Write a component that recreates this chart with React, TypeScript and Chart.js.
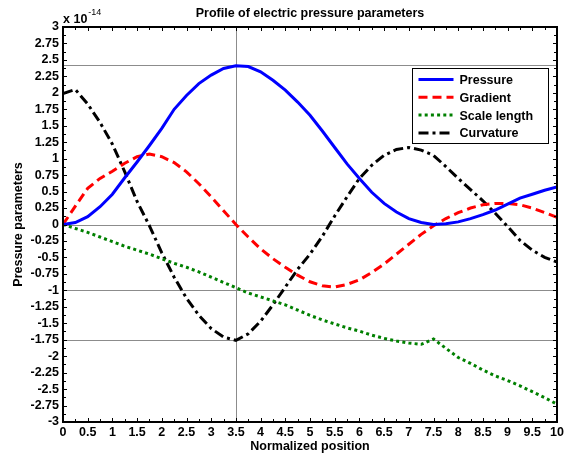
import React, { useEffect, useRef } from "react";
import { Chart, registerables } from "chart.js";

Chart.register(...registerables);

const FONT = '"Liberation Sans", Arial, Helvetica, sans-serif';

const chartTitle = "Profile of electric pressure parameters";
const xAxisTitle = "Normalized position";
const yAxisTitle = "Pressure parameters";
const exponentBase = "x 10";
const exponentPower = "-14";

const positions = [
  0, 0.25, 0.5, 0.75, 1, 1.25, 1.5, 1.75, 2, 2.25, 2.5, 2.75, 3, 3.25, 3.5, 3.75, 4, 4.25, 4.5, 4.75, 5,
  5.25, 5.5, 5.75, 6, 6.25, 6.5, 6.75, 7, 7.25, 7.5, 7.75, 8, 8.25, 8.5, 8.75, 9, 9.25, 9.5, 9.75, 10,
];

const pressure = [
  0, 0.03, 0.12, 0.27, 0.46, 0.71, 0.95, 1.2, 1.46, 1.75, 1.96, 2.14, 2.27, 2.37, 2.41, 2.4, 2.32, 2.19, 2.04, 1.86, 1.66,
  1.42, 1.17, 0.92, 0.7, 0.49, 0.32, 0.19, 0.09, 0.03, 0.0, 0.01, 0.04, 0.09, 0.15, 0.22, 0.31, 0.4, 0.46, 0.52, 0.57,
];

const gradient = [
  0, 0.28, 0.55, 0.7, 0.81, 0.93, 1.03, 1.07, 1.03, 0.94, 0.8, 0.62, 0.42, 0.21, 0.0, -0.19, -0.37, -0.52, -0.65, -0.77, -0.87,
  -0.93, -0.95, -0.91, -0.84, -0.73, -0.6, -0.45, -0.3, -0.15, -0.02, 0.09, 0.18, 0.25, 0.3, 0.32, 0.32, 0.3, 0.25, 0.18, 0.11,
];

const scaleLength = [
  0, -0.06, -0.12, -0.19, -0.26, -0.33, -0.39, -0.45, -0.52, -0.59, -0.65, -0.72, -0.8, -0.88, -0.96, -1.04, -1.1, -1.16, -1.22, -1.3, -1.38,
  -1.45, -1.51, -1.57, -1.62, -1.68, -1.73, -1.77, -1.8, -1.82, -1.74, -1.88, -2.02, -2.11, -2.21, -2.3, -2.37, -2.45, -2.54, -2.63, -2.73,
];

const curvature = [
  1.99, 2.05, 1.83, 1.55, 1.22, 0.8, 0.35, -0.02, -0.43, -0.8, -1.12, -1.38, -1.58, -1.71, -1.76, -1.66, -1.47, -1.22, -0.95, -0.68, -0.45,
  -0.18, 0.13, 0.42, 0.7, 0.9, 1.05, 1.14, 1.17, 1.13, 1.05, 0.88, 0.7, 0.53, 0.36, 0.17, -0.03, -0.24, -0.39, -0.5, -0.57,
];

const seriesLabels = ["Pressure", "Gradient", "Scale length", "Curvature"];

const refLinesY = [2.42, 0, -1, -1.76];
const refLinesX = [3.5];

const xMin = 0;
const xMax = 10;
const xLabelStep = 0.5;
const xTickStep = 0.25;
const yMin = -3;
const yMax = 3;
const yLabelStep = 0.25;
const yTickStep = 0.125;

const FS = 12.5;

function fmt(v: number): string {
  return String(Number(v.toFixed(3)));
}

const matlabPlugin = {
  id: "matlabLook",
  beforeDatasetsDraw(chart: any) {
    const { ctx, chartArea: a, scales } = chart;
    const x = scales.x;
    const y = scales.y;
    ctx.save();
    ctx.strokeStyle = "#8c8c8c";
    ctx.lineWidth = 1;
    for (const v of refLinesY) {
      const py = Math.round(y.getPixelForValue(v)) + 0.5;
      ctx.beginPath();
      ctx.moveTo(a.left, py);
      ctx.lineTo(a.right, py);
      ctx.stroke();
    }
    for (const v of refLinesX) {
      const px = Math.round(x.getPixelForValue(v)) + 0.5;
      ctx.beginPath();
      ctx.moveTo(px, a.top);
      ctx.lineTo(px, a.bottom);
      ctx.stroke();
    }
    ctx.restore();
  },
  afterDatasetsDraw(chart: any) {
    const { ctx, chartArea: a, scales } = chart;
    const x = scales.x;
    const y = scales.y;
    ctx.save();
    // ticks
    ctx.strokeStyle = "#000";
    ctx.lineWidth = 1;
    const nx = Math.round((xMax - xMin) / xTickStep);
    for (let i = 0; i <= nx; i++) {
      const v = xMin + i * xTickStep;
      const major = Math.abs(v / xLabelStep - Math.round(v / xLabelStep)) < 1e-6;
      const len = major ? 4 : 3;
      const px = Math.round(x.getPixelForValue(v)) + 0.5;
      ctx.beginPath();
      ctx.moveTo(px, a.bottom);
      ctx.lineTo(px, a.bottom - len);
      ctx.moveTo(px, a.top);
      ctx.lineTo(px, a.top + len);
      ctx.stroke();
    }
    const ny = Math.round((yMax - yMin) / yTickStep);
    for (let i = 0; i <= ny; i++) {
      const v = yMin + i * yTickStep;
      const major = Math.abs(v / yLabelStep - Math.round(v / yLabelStep)) < 1e-6;
      const len = major ? 4 : 3;
      const py = Math.round(y.getPixelForValue(v)) + 0.5;
      ctx.beginPath();
      ctx.moveTo(a.left, py);
      ctx.lineTo(a.left + len, py);
      ctx.moveTo(a.right, py);
      ctx.lineTo(a.right - len, py);
      ctx.stroke();
    }
    // frame
    ctx.lineWidth = 2;
    ctx.strokeRect(a.left, a.top, a.right - a.left, a.bottom - a.top);

    // legend
    const lw = 136;
    const lh = 75;
    const lx = Math.round(a.right - 9 - lw) + 0.5;
    const ly = Math.round(a.top + 41) + 0.5;
    ctx.fillStyle = "#fff";
    ctx.fillRect(lx, ly, lw, lh);
    ctx.lineWidth = 1;
    ctx.strokeStyle = "#000";
    ctx.strokeRect(lx, ly, lw, lh);
    ctx.font = "bold " + FS + "px " + FONT;
    ctx.textBaseline = "middle";
    ctx.textAlign = "left";
    chart.data.datasets.forEach((ds: any, i: number) => {
      const rowY = ly + 11 + i * 17.8;
      ctx.save();
      ctx.strokeStyle = ds.borderColor;
      ctx.lineWidth = ds.borderWidth;
      ctx.setLineDash(ds.borderDash || []);
      ctx.beginPath();
      ctx.moveTo(lx + 6, rowY);
      ctx.lineTo(lx + 41, rowY);
      ctx.stroke();
      ctx.restore();
      ctx.fillStyle = "#000";
      ctx.fillText(ds.label, lx + 47, rowY + 1);
    });

    // title
    ctx.fillStyle = "#000";
    ctx.textAlign = "center";
    ctx.textBaseline = "middle";
    ctx.font = "bold " + FS + "px " + FONT;
    ctx.fillText(chartTitle, (a.left + a.right) / 2, 14);

    // exponent label
    ctx.textAlign = "left";
    ctx.textBaseline = "alphabetic";
    ctx.font = "bold " + FS + "px " + FONT;
    ctx.fillText(exponentBase, a.left, a.top - 4);
    const w = ctx.measureText(exponentBase).width;
    ctx.font = "9px " + FONT;
    ctx.fillText(exponentPower, a.left + w + 1, a.top - 12);
    ctx.restore();
  },
};

export default function App() {
  const canvasRef = useRef<HTMLCanvasElement | null>(null);

  useEffect(() => {
    const canvas = canvasRef.current;
    if (!canvas) return;
    const styles = [
      { color: "#0000ff", dash: [] as number[] },
      { color: "#ff0000", dash: [9, 5] },
      { color: "#008000", dash: [3, 3.2] },
      { color: "#000000", dash: [10, 4, 3, 4] },
    ];
    const seriesValues = [pressure, gradient, scaleLength, curvature];
    const tickFont = { family: FONT, size: FS, weight: "bold" as const };
    const chart = new Chart(canvas, {
      type: "line",
      data: {
        datasets: seriesValues.map((vals, i) => ({
          label: seriesLabels[i],
          data: positions.map((p, j) => ({ x: p, y: vals[j] })),
          borderColor: styles[i].color,
          backgroundColor: styles[i].color,
          borderWidth: 3,
          borderDash: styles[i].dash,
          pointRadius: 0,
          tension: 0,
          fill: false,
        })),
      },
      options: {
        responsive: true,
        maintainAspectRatio: false,
        animation: false,
        layout: { padding: { left: 0, right: 15, top: 27, bottom: 0 } },
        plugins: {
          legend: { display: false },
          tooltip: { enabled: false },
          title: { display: false },
        },
        scales: {
          x: {
            type: "linear",
            min: xMin,
            max: xMax,
            grid: { display: false, drawTicks: false },
            border: { display: false },
            afterFit: (s: any) => {
              s.height = 36;
            },
            ticks: {
              stepSize: xLabelStep,
              autoSkip: false,
              maxRotation: 0,
              padding: 3,
              color: "#000",
              font: tickFont,
              callback: (v: any) => fmt(Number(v)),
            },
            title: {
              display: true,
              text: xAxisTitle,
              color: "#000",
              font: tickFont,
              padding: { top: 0, bottom: 4 },
            },
          },
          y: {
            type: "linear",
            min: yMin,
            max: yMax,
            grid: { display: false, drawTicks: false },
            border: { display: false },
            afterFit: (s: any) => {
              s.width = 63;
            },
            ticks: {
              stepSize: yLabelStep,
              autoSkip: false,
              padding: 4,
              color: "#000",
              font: tickFont,
              callback: (v: any) => fmt(Number(v)),
            },
            title: {
              display: true,
              text: yAxisTitle,
              color: "#000",
              font: tickFont,
              padding: { top: 11, bottom: 0 },
            },
          },
        },
      },
      plugins: [matlabPlugin],
    });
    return () => chart.destroy();
  }, []);

  return (
    <div style={{ position: "absolute", left: 0, top: 0, width: 572, height: 458, background: "#fff" }}>
      <canvas ref={canvasRef} />
    </div>
  );
}
